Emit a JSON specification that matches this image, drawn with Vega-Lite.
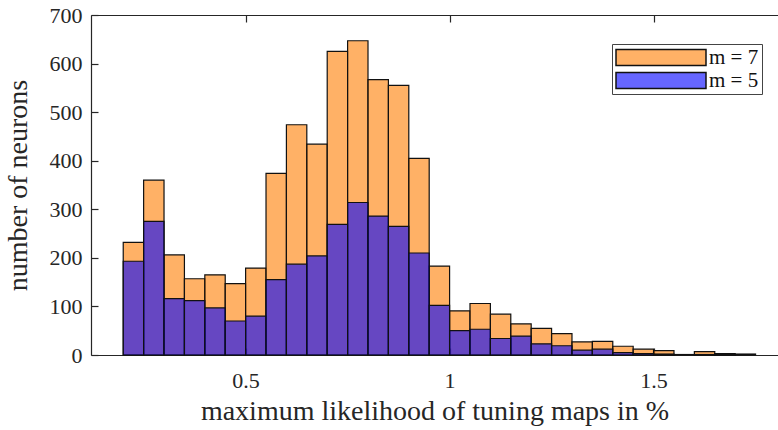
{
  "$schema": "https://vega.github.io/schema/vega-lite/v6.json",
  "autosize": "none",
  "width": 687,
  "height": 340,
  "padding": {"left": 91, "top": 15, "right": 0, "bottom": 75},
  "background": "white",
  "config": {
    "view": {"stroke": null},
    "font": "Liberation Serif",
    "axis": {
      "domainColor": "#262626",
      "domainWidth": 1.2,
      "tickColor": "#262626",
      "tickWidth": 1.2,
      "tickSize": -7,
      "grid": false,
      "labelFont": "Liberation Serif",
      "labelFontSize": 22,
      "labelColor": "#262626",
      "titleFont": "Liberation Serif",
      "titleFontSize": 28,
      "titleFontWeight": "normal",
      "titleColor": "#262626"
    }
  },
  "data": {
    "values": [
      {"start": 0.20, "end": 0.25, "m": "m = 7", "count": 232},
      {"start": 0.25, "end": 0.30, "m": "m = 7", "count": 360},
      {"start": 0.30, "end": 0.35, "m": "m = 7", "count": 206},
      {"start": 0.35, "end": 0.40, "m": "m = 7", "count": 157},
      {"start": 0.40, "end": 0.45, "m": "m = 7", "count": 165},
      {"start": 0.45, "end": 0.50, "m": "m = 7", "count": 147},
      {"start": 0.50, "end": 0.55, "m": "m = 7", "count": 179},
      {"start": 0.55, "end": 0.60, "m": "m = 7", "count": 374},
      {"start": 0.60, "end": 0.65, "m": "m = 7", "count": 474},
      {"start": 0.65, "end": 0.70, "m": "m = 7", "count": 434},
      {"start": 0.70, "end": 0.75, "m": "m = 7", "count": 625},
      {"start": 0.75, "end": 0.80, "m": "m = 7", "count": 647},
      {"start": 0.80, "end": 0.85, "m": "m = 7", "count": 567},
      {"start": 0.85, "end": 0.90, "m": "m = 7", "count": 555},
      {"start": 0.90, "end": 0.95, "m": "m = 7", "count": 405},
      {"start": 0.95, "end": 1.00, "m": "m = 7", "count": 183},
      {"start": 1.00, "end": 1.05, "m": "m = 7", "count": 91},
      {"start": 1.05, "end": 1.10, "m": "m = 7", "count": 106},
      {"start": 1.10, "end": 1.15, "m": "m = 7", "count": 84},
      {"start": 1.15, "end": 1.20, "m": "m = 7", "count": 64},
      {"start": 1.20, "end": 1.25, "m": "m = 7", "count": 55},
      {"start": 1.25, "end": 1.30, "m": "m = 7", "count": 44},
      {"start": 1.30, "end": 1.35, "m": "m = 7", "count": 27},
      {"start": 1.35, "end": 1.40, "m": "m = 7", "count": 28},
      {"start": 1.40, "end": 1.45, "m": "m = 7", "count": 18},
      {"start": 1.45, "end": 1.50, "m": "m = 7", "count": 12},
      {"start": 1.50, "end": 1.55, "m": "m = 7", "count": 9},
      {"start": 1.55, "end": 1.60, "m": "m = 7", "count": 1},
      {"start": 1.60, "end": 1.65, "m": "m = 7", "count": 7},
      {"start": 1.65, "end": 1.70, "m": "m = 7", "count": 3},
      {"start": 1.70, "end": 1.75, "m": "m = 7", "count": 2},
      {"start": 0.20, "end": 0.25, "m": "m = 5", "count": 193},
      {"start": 0.25, "end": 0.30, "m": "m = 5", "count": 275},
      {"start": 0.30, "end": 0.35, "m": "m = 5", "count": 116},
      {"start": 0.35, "end": 0.40, "m": "m = 5", "count": 112},
      {"start": 0.40, "end": 0.45, "m": "m = 5", "count": 97},
      {"start": 0.45, "end": 0.50, "m": "m = 5", "count": 70},
      {"start": 0.50, "end": 0.55, "m": "m = 5", "count": 80},
      {"start": 0.55, "end": 0.60, "m": "m = 5", "count": 155},
      {"start": 0.60, "end": 0.65, "m": "m = 5", "count": 187},
      {"start": 0.65, "end": 0.70, "m": "m = 5", "count": 204},
      {"start": 0.70, "end": 0.75, "m": "m = 5", "count": 269},
      {"start": 0.75, "end": 0.80, "m": "m = 5", "count": 314},
      {"start": 0.80, "end": 0.85, "m": "m = 5", "count": 286},
      {"start": 0.85, "end": 0.90, "m": "m = 5", "count": 265},
      {"start": 0.90, "end": 0.95, "m": "m = 5", "count": 210},
      {"start": 0.95, "end": 1.00, "m": "m = 5", "count": 102},
      {"start": 1.00, "end": 1.05, "m": "m = 5", "count": 50},
      {"start": 1.05, "end": 1.10, "m": "m = 5", "count": 53},
      {"start": 1.10, "end": 1.15, "m": "m = 5", "count": 34},
      {"start": 1.15, "end": 1.20, "m": "m = 5", "count": 39},
      {"start": 1.20, "end": 1.25, "m": "m = 5", "count": 23},
      {"start": 1.25, "end": 1.30, "m": "m = 5", "count": 19},
      {"start": 1.30, "end": 1.35, "m": "m = 5", "count": 10},
      {"start": 1.35, "end": 1.40, "m": "m = 5", "count": 12},
      {"start": 1.40, "end": 1.45, "m": "m = 5", "count": 5},
      {"start": 1.45, "end": 1.50, "m": "m = 5", "count": 3},
      {"start": 1.50, "end": 1.55, "m": "m = 5", "count": 2},
      {"start": 1.60, "end": 1.65, "m": "m = 5", "count": 1},
      {"start": 1.65, "end": 1.70, "m": "m = 5", "count": 1}
    ]
  },
  "layer": [
    {
      "mark": {"type": "rect", "fillOpacity": 0.6, "stroke": "#111111", "strokeWidth": 1.2, "strokeOpacity": 1},
      "encoding": {
        "x": {
          "field": "start", "type": "quantitative",
          "scale": {"domain": [0.121, 1.805], "nice": false, "zero": false},
          "axis": {"values": [0.5, 1, 1.5], "format": ".1~f", "labelPadding": 22, "title": "maximum likelihood of tuning maps in %", "titlePadding": 6, "labelFlush": false}
        },
        "x2": {"field": "end"},
        "y": {
          "field": "count", "type": "quantitative", "stack": null,
          "scale": {"domain": [0, 700], "nice": false},
          "axis": {"values": [0, 100, 200, 300, 400, 500, 600, 700], "labelPadding": 16, "title": "number of neurons", "titlePadding": 17}
        },
        "y2": {"datum": 0},
        "fill": {
          "field": "m", "type": "nominal",
          "scale": {"domain": ["m = 7", "m = 5"], "range": ["#FF7D00", "#0000FF"]},
          "legend": {
            "title": null,
            "orient": "none",
            "legendX": 521,
            "legendY": 29,
            "symbolType": "M-1,-0.178H1V0.178H-1Z",
            "symbolSize": 8100,
            "symbolStrokeColor": "#111111",
            "symbolStrokeWidth": 1.5,
            "clipHeight": 21,
            "rowPadding": 1,
            "labelOffset": 2,
            "labelFont": "Liberation Serif",
            "labelFontSize": 21,
            "labelColor": "#111111",
            "padding": 3,
            "strokeColor": "#444444",
            "fillColor": "white",
            "symbolOffset": 0,
            "encode": {"symbols": {"update": {"fillOpacity": {"value": 0.6}, "strokeOpacity": {"value": 1}, "opacity": {"value": 1}}}}
          }
        }
      }
    },
    {
      "mark": {"type": "rule", "opacity": 0},
      "encoding": {
        "x": {
          "field": "start", "type": "quantitative",
          "axis": {"orient": "top", "values": [0.5, 1, 1.5], "labels": false, "title": null}
        }
      }
    }
  ],
  "resolve": {"axis": {"x": "independent"}}
}
